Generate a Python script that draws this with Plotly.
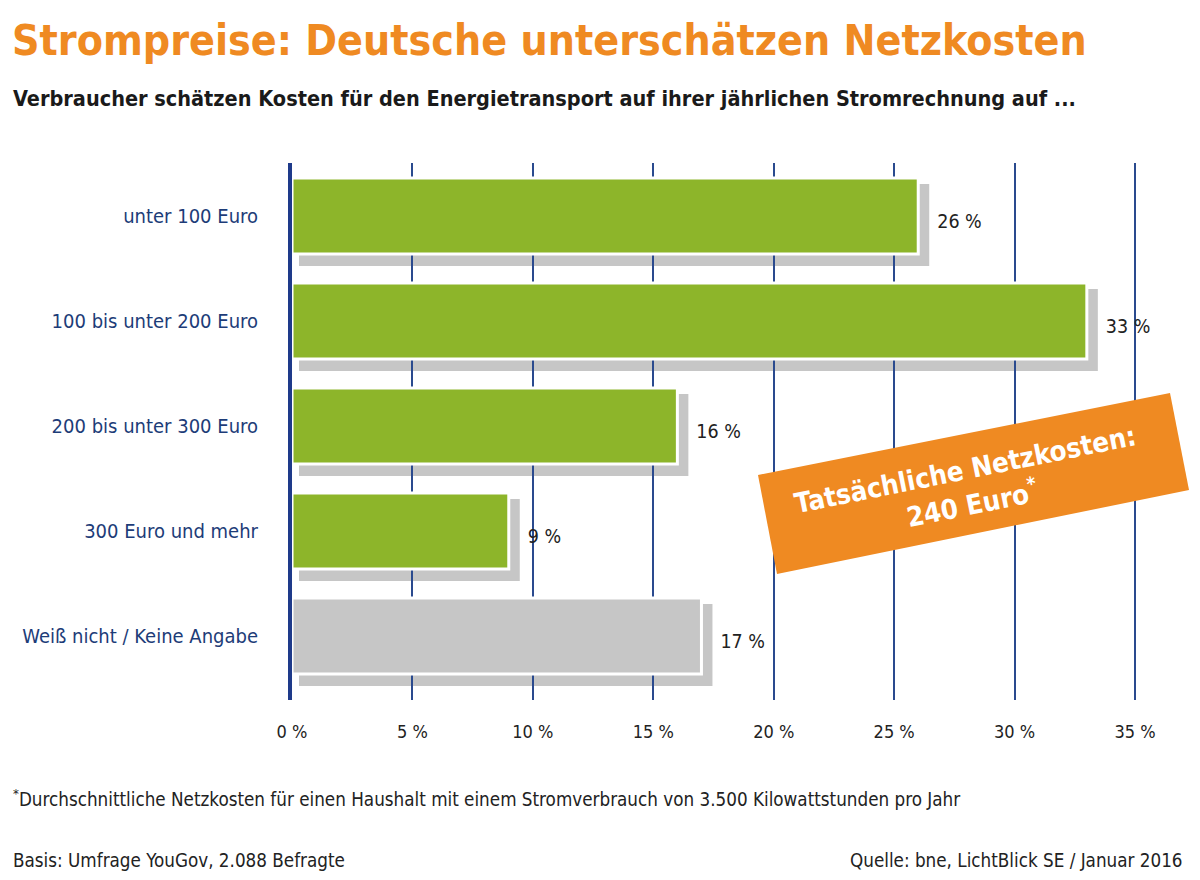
import plotly.graph_objects as go

categories = ["unter 100 Euro", "100 bis unter 200 Euro", "200 bis unter 300 Euro",
              "300 Euro und mehr", "Weiß nicht / Keine Angabe"]
values = [26, 33, 16, 9, 17]
bar_colors = ["#8db52a", "#8db52a", "#8db52a", "#8db52a", "#c6c6c6"]
x_ticks = [0, 5, 10, 15, 20, 25, 30, 35]
x_tick_labels = [f"{t} %" for t in x_ticks]

FONT = "DejaVu Sans Condensed, Liberation Sans Narrow, Roboto Condensed, Roboto, sans-serif"

# page offset (body margin) so reference pixel p maps to figure pixel p - OFF
OFF = 8
FW, FH = 1200 - OFF, 880 - OFF

# layout geometry in reference pixels
L, R, T, B = 292, 1180, 163, 700
W, H = R - L, B - T
PX_PER_PCT = (1135 - 292) / 35.0
PX_PER_ROW = 105.0
xmax = W / PX_PER_PCT
ytop = -(216 - T) / PX_PER_ROW
ybot = (B - 216) / PX_PER_ROW


def pxx(x):
    return (x - L) / W


def pxy(y):
    return (B - y) / H


idx = list(range(len(categories)))
bw = 76 / PX_PER_ROW

fig = go.Figure()

shapes = []
for i, v in zip(idx, values):
    shapes.append(dict(type="rect", xref="x", yref="y", layer="below",
                       x0=7 / PX_PER_PCT, x1=v + 11 / PX_PER_PCT,
                       y0=i - bw / 2 + 6 / PX_PER_ROW, y1=i + bw / 2 + 12 / PX_PER_ROW,
                       fillcolor="#c6c6c6", line=dict(width=0)))

fig.add_trace(go.Bar(
    x=values, y=idx, orientation="h", width=bw,
    marker=dict(color=bar_colors, line=dict(color="white", width=3)),
    hoverinfo="skip", showlegend=False))

fig.add_trace(go.Scatter(
    x=[v + 19 / PX_PER_PCT for v in values], y=[i + 0.07 for i in idx],
    mode="text", text=[f"{v} %" for v in values], textposition="middle right",
    textfont=dict(family=FONT, size=19.5, color="#222222"),
    hoverinfo="skip", showlegend=False, cliponaxis=False))

# orange rotated box
corners = [(758, 475), (1170, 393), (1189, 490), (777, 574)]
path = "M " + " L ".join(f"{pxx(x):.5f},{pxy(y):.5f}" for x, y in corners) + " Z"
shapes.append(dict(type="path", xref="paper", yref="paper", path=path,
                   fillcolor="#ef8a22", line=dict(width=0), layer="above"))

annotations = [
    dict(text="<b>Tatsächliche Netzkosten:<br>240 Euro<sup>*</sup></b>",
         x=pxx(968), y=pxy(487), xref="paper", yref="paper",
         xanchor="center", yanchor="middle",
         showarrow=False, textangle=-11.4,
         font=dict(family=FONT, size=27.5, color="white"), align="center"),
    dict(text="<b>Strompreise: Deutsche unterschätzen Netzkosten</b>",
         x=pxx(10), y=pxy(41), xref="paper", yref="paper", xanchor="left", yanchor="middle",
         showarrow=False, font=dict(family=FONT, size=42.5, color="#ef8a22")),
    dict(text="<b>Verbraucher schätzen Kosten für den Energietransport auf ihrer jährlichen Stromrechnung auf ...</b>",
         x=pxx(11), y=pxy(99), xref="paper", yref="paper", xanchor="left", yanchor="middle",
         showarrow=False, font=dict(family=FONT, size=21.5, color="#1a1a1a")),
    dict(text="<sup>*</sup>Durchschnittliche Netzkosten für einen Haushalt mit einem Stromverbrauch von 3.500 Kilowattstunden pro Jahr",
         x=pxx(11), y=pxy(798), xref="paper", yref="paper", xanchor="left", yanchor="middle",
         showarrow=False, font=dict(family=FONT, size=18.7, color="#222222")),
    dict(text="Basis: Umfrage YouGov, 2.088 Befragte",
         x=pxx(11), y=pxy(860), xref="paper", yref="paper", xanchor="left", yanchor="middle",
         showarrow=False, font=dict(family=FONT, size=18.7, color="#222222")),
    dict(text="Quelle: bne, LichtBlick SE / Januar 2016",
         x=pxx(1185), y=pxy(860), xref="paper", yref="paper", xanchor="right", yanchor="middle",
         showarrow=False, font=dict(family=FONT, size=18.7, color="#222222")),
]

fig.update_layout(
    width=FW, height=FH,
    margin=dict(l=L - OFF, r=FW - (R - OFF), t=T - OFF, b=FH - (B - OFF), autoexpand=False),
    paper_bgcolor="white", plot_bgcolor="white",
    shapes=shapes, annotations=annotations,
    font=dict(family=FONT),
    xaxis=dict(range=[0, xmax], tickvals=x_ticks, ticktext=x_tick_labels,
               showgrid=True, gridcolor="#2a4a8e", gridwidth=1.5, zeroline=False,
               showline=False, ticks="", ticklabelstandoff=19,
               tickfont=dict(family=FONT, size=18, color="#222222"), fixedrange=True),
    yaxis=dict(range=[ybot, ytop], tickvals=idx, ticktext=categories,
               showgrid=False, zeroline=False, showline=True, linecolor="#1e3a8a",
               linewidth=4, ticks="", ticklabelstandoff=26,
               tickfont=dict(family=FONT, size=20, color="#1d3c78"), fixedrange=True),
)

fig.write_html("out.html")
